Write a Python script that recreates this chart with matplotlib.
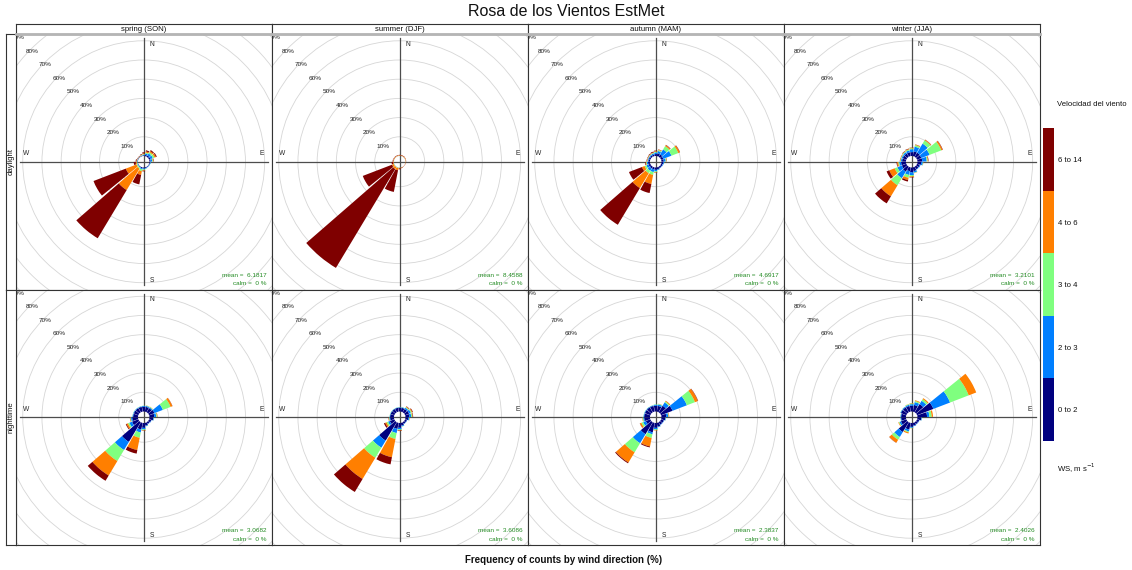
"""
windrose_panels.py
Wind roses per season (southern hemisphere) and day/night period,
stacked by wind speed class in 20-degree sectors.
"""

import numpy as np
import matplotlib
matplotlib.use("Agg")
import matplotlib.pyplot as plt
from matplotlib.patches import Wedge, Circle

plt.rcParams["font.family"] = ["Liberation Sans", "DejaVu Sans"]


DIRECTIONS = list(range(20, 361, 20))
SPEED_LABELS = ["0 to 2", "2 to 3", "3 to 4", "4 to 6", "6 to 14"]
SPEED_COLORS = ["#00007F", "#007FFF", "#7FFF7F", "#FF7F00", "#7F0000"]
SEASONS = ["spring (SON)", "summer (DJF)", "autumn (MAM)", "winter (JJA)"]
PERIODS = ["daylight", "nighttime"]
GRID_PCT = [10, 20, 30, 40, 50, 60, 70, 80, 90]

MEAN_DAY = [6.1817, 8.4588, 4.6917, 3.2101]
MEAN_NIGHT = [3.0682, 3.6086, 2.3837, 2.4026]
CALM_DAY = [0, 0, 0, 0]
CALM_NIGHT = [0, 0, 0, 0]

# frequency (%) by sector (rows: 20..360 deg), columns: speed classes
spring_day = [
    [0.6, 0.8, 0.5, 0.6, 0.6],
    [0.8, 1.2, 0.8, 0.7, 0.6],
    [0.8, 1.3, 0.9, 0.8, 0.5],
    [0.6, 0.8, 0.4, 0.3, 0.2],
    [0.4, 0.3, 0.1, 0.0, 0.0],
    [0.3, 0.2, 0.1, 0.0, 0.0],
    [0.3, 0.2, 0.0, 0.0, 0.0],
    [0.4, 0.3, 0.1, 0.0, 0.0],
    [0.5, 0.5, 0.4, 0.3, 0.3],
    [0.5, 0.5, 1.0, 2.0, 5.0],
    [0.3, 0.3, 0.6, 13.0, 29.3],
    [0.2, 0.3, 0.5, 6.0, 18.0],
    [0.2, 0.2, 0.3, 0.5, 1.0],
    [0.2, 0.2, 0.2, 0.2, 0.4],
    [0.2, 0.1, 0.1, 0.1, 0.2],
    [0.2, 0.1, 0.1, 0.1, 0.2],
    [0.2, 0.2, 0.2, 0.2, 0.3],
    [0.3, 0.3, 0.3, 0.4, 0.6],
]
summer_day = [
    [0.0, 0.05, 0.05, 0.3, 0.2],
    [0.0, 0.05, 0.05, 0.3, 0.2],
    [0.0, 0.05, 0.05, 0.3, 0.1],
    [0.0, 0.05, 0.05, 0.2, 0.1],
    [0.0, 0.0, 0.05, 0.15, 0.1],
    [0.0, 0.0, 0.0, 0.1, 0.1],
    [0.0, 0.0, 0.0, 0.1, 0.1],
    [0.0, 0.0, 0.05, 0.2, 0.2],
    [0.0, 0.05, 0.1, 0.3, 0.5],
    [0.0, 0.1, 0.2, 1.2, 11.5],
    [0.0, 0.1, 0.2, 1.2, 60.0],
    [0.0, 0.1, 0.2, 1.0, 16.3],
    [0.0, 0.05, 0.1, 0.3, 0.8],
    [0.0, 0.05, 0.05, 0.3, 0.3],
    [0.0, 0.05, 0.05, 0.3, 0.2],
    [0.0, 0.05, 0.05, 0.3, 0.2],
    [0.0, 0.05, 0.05, 0.3, 0.2],
    [0.0, 0.05, 0.05, 0.3, 0.2],
]
autumn_day = [
    [1.5, 1.2, 0.5, 0.3, 0.1],
    [1.5, 3.0, 2.0, 0.6, 0.2],
    [1.2, 4.6, 3.8, 0.8, 0.2],
    [1.2, 1.0, 0.4, 0.2, 0.1],
    [1.0, 0.4, 0.1, 0.0, 0.0],
    [0.8, 0.3, 0.0, 0.0, 0.0],
    [0.8, 0.2, 0.0, 0.0, 0.0],
    [1.0, 0.4, 0.1, 0.0, 0.0],
    [1.2, 0.8, 0.4, 0.2, 0.1],
    [1.0, 1.5, 1.5, 4.8, 4.8],
    [1.0, 1.5, 1.5, 9.0, 22.3],
    [1.0, 1.2, 1.0, 1.5, 7.2],
    [1.0, 0.6, 0.4, 0.3, 0.3],
    [0.8, 0.4, 0.2, 0.2, 0.2],
    [0.8, 0.4, 0.2, 0.2, 0.2],
    [0.8, 0.5, 0.3, 0.2, 0.3],
    [0.8, 0.6, 0.3, 0.3, 0.4],
    [1.0, 0.8, 0.4, 0.3, 0.3],
]
winter_day = [
    [2.5, 2.5, 0.8, 0.3, 0.1],
    [2.5, 5.5, 2.0, 0.4, 0.1],
    [2.4, 4.6, 6.5, 0.7, 0.2],
    [2.5, 2.3, 0.5, 0.3, 0.2],
    [2.0, 0.8, 0.2, 0.1, 0.0],
    [1.5, 0.4, 0.0, 0.0, 0.0],
    [1.5, 0.3, 0.0, 0.0, 0.0],
    [2.0, 0.8, 0.2, 0.1, 0.0],
    [2.5, 1.5, 0.6, 0.4, 0.2],
    [2.0, 2.0, 1.5, 1.2, 0.8],
    [3.0, 4.0, 4.3, 6.7, 4.3],
    [2.5, 2.5, 1.5, 3.0, 1.5],
    [2.5, 1.0, 0.5, 0.6, 0.3],
    [2.0, 0.6, 0.3, 0.2, 0.1],
    [2.0, 0.6, 0.3, 0.2, 0.1],
    [2.0, 0.8, 0.4, 0.2, 0.2],
    [2.0, 1.0, 0.5, 0.3, 0.2],
    [2.0, 1.5, 0.5, 0.3, 0.1],
]
spring_night = [
    [2.5, 0.5, 0.2, 0.1, 0.0],
    [2.5, 0.5, 0.3, 0.1, 0.0],
    [3.0, 4.7, 4.3, 1.0, 0.1],
    [2.5, 1.0, 0.4, 0.2, 0.1],
    [2.0, 0.3, 0.1, 0.0, 0.0],
    [1.2, 0.2, 0.0, 0.0, 0.0],
    [1.0, 0.2, 0.0, 0.0, 0.0],
    [1.5, 0.3, 0.1, 0.0, 0.0],
    [2.5, 0.8, 0.4, 0.2, 0.1],
    [3.5, 1.6, 2.8, 6.5, 1.9],
    [12.0, 4.9, 6.7, 8.8, 3.2],
    [3.5, 1.5, 0.8, 0.8, 0.4],
    [3.0, 0.6, 0.3, 0.2, 0.1],
    [2.5, 0.3, 0.1, 0.0, 0.0],
    [2.5, 0.3, 0.1, 0.0, 0.0],
    [2.5, 0.3, 0.1, 0.0, 0.0],
    [2.5, 0.3, 0.1, 0.0, 0.0],
    [2.5, 0.4, 0.1, 0.0, 0.0],
]
summer_night = [
    [2.0, 0.3, 0.1, 0.0, 0.0],
    [2.0, 0.8, 0.4, 0.3, 0.2],
    [2.2, 1.0, 0.5, 0.4, 0.3],
    [2.0, 1.0, 0.5, 0.3, 0.2],
    [1.5, 0.5, 0.2, 0.1, 0.0],
    [1.0, 0.2, 0.0, 0.0, 0.0],
    [1.0, 0.2, 0.0, 0.0, 0.0],
    [1.5, 0.4, 0.1, 0.0, 0.0],
    [2.5, 0.8, 0.4, 0.3, 0.2],
    [3.2, 2.2, 3.1, 9.7, 3.8],
    [11.2, 4.3, 6.1, 12.9, 7.9],
    [2.5, 1.0, 0.8, 0.8, 0.7],
    [2.0, 0.4, 0.2, 0.2, 0.1],
    [2.0, 0.2, 0.1, 0.0, 0.0],
    [2.0, 0.2, 0.1, 0.0, 0.0],
    [2.0, 0.2, 0.1, 0.0, 0.0],
    [2.0, 0.2, 0.1, 0.0, 0.0],
    [2.0, 0.2, 0.1, 0.0, 0.0],
]
autumn_night = [
    [3.0, 0.8, 0.3, 0.1, 0.0],
    [4.0, 2.0, 0.6, 0.4, 0.05],
    [6.4, 8.0, 4.5, 1.6, 0.2],
    [2.5, 1.0, 0.3, 0.2, 0.05],
    [2.0, 0.3, 0.1, 0.0, 0.0],
    [1.5, 0.2, 0.0, 0.0, 0.0],
    [1.5, 0.2, 0.0, 0.0, 0.0],
    [2.0, 0.3, 0.1, 0.0, 0.0],
    [2.5, 0.8, 0.4, 0.2, 0.0],
    [5.0, 1.0, 2.0, 4.5, 0.5],
    [7.3, 5.5, 5.5, 6.2, 0.5],
    [2.5, 1.5, 1.0, 0.8, 0.1],
    [3.0, 0.5, 0.3, 0.2, 0.0],
    [3.0, 0.3, 0.1, 0.0, 0.0],
    [3.0, 0.3, 0.1, 0.0, 0.0],
    [3.0, 0.3, 0.1, 0.0, 0.0],
    [3.0, 0.3, 0.1, 0.0, 0.0],
    [3.0, 0.5, 0.2, 0.0, 0.0],
]
winter_night = [
    [3.5, 1.5, 0.6, 0.4, 0.0],
    [5.0, 2.0, 1.0, 0.6, 0.0],
    [9.1, 9.3, 10.4, 4.2, 0.0],
    [5.0, 1.2, 1.2, 0.7, 0.0],
    [2.0, 0.3, 0.1, 0.0, 0.0],
    [1.2, 0.2, 0.0, 0.0, 0.0],
    [1.2, 0.2, 0.0, 0.0, 0.0],
    [1.5, 0.3, 0.0, 0.0, 0.0],
    [2.0, 0.5, 0.2, 0.1, 0.0],
    [3.5, 1.0, 0.5, 0.6, 0.0],
    [6.0, 3.0, 1.7, 1.8, 0.1],
    [3.0, 0.8, 0.4, 0.3, 0.0],
    [2.5, 0.3, 0.1, 0.0, 0.0],
    [2.5, 0.3, 0.1, 0.0, 0.0],
    [3.0, 0.3, 0.1, 0.0, 0.0],
    [3.0, 0.4, 0.1, 0.0, 0.0],
    [3.0, 0.6, 0.3, 0.1, 0.0],
    [3.0, 0.8, 0.4, 0.2, 0.0],
]

DAY_ROSES = [spring_day, summer_day, autumn_day, winter_day]
NIGHT_ROSES = [spring_night, summer_night, autumn_night, winter_night]

# layout in pixels
FIG_W, FIG_H = 1132, 570
PANEL_X0, PANEL_W, PANEL_H = 15.7, 256.0, 255.5
ROW_TOP = [34.0, 289.5]
STRIP_TOP = 24.3
PX_PER_PCT = 1.92      # radial scale
HOLE = 3.0             # empty centre, in % units
SECTOR_HALF = 9.0      # half width of a wedge, degrees
GRID_COLOR = "#d6d6d6"
AXIS_COLOR = "#4d4d4d"


def fig_rect(x, y, w, h):
    """Pixel box (top-left origin) -> figure fraction rect."""
    return [x / FIG_W, 1 - (y + h) / FIG_H, w / FIG_W, h / FIG_H]


def draw_rose(ax, freq, mean, calm):
    half_w = PANEL_W / 2 / PX_PER_PCT
    half_h = PANEL_H / 2 / PX_PER_PCT
    ax.set_xlim(-half_w, half_w)
    ax.set_ylim(-half_h, half_h)
    ax.set_xticks([])
    ax.set_yticks([])
    for sp in ax.spines.values():
        sp.set_linewidth(0.8)
        sp.set_color("#333333")

    for pct in GRID_PCT + [100]:
        ax.add_patch(Circle((0, 0), HOLE + pct, fill=False,
                            ec=GRID_COLOR, lw=0.6, zorder=1))
    ax.plot([-64.6, 64.6], [0, 0], color=AXIS_COLOR, lw=0.9, zorder=2)
    ax.plot([0, 0], [-64.3, 64.3], color=AXIS_COLOR, lw=0.9, zorder=2)

    for wd, row in zip(DIRECTIONS, np.asarray(freq, dtype=float)):
        theta = 90 - wd
        r = HOLE
        for val, col in zip(row, SPEED_COLORS):
            if val <= 0:
                continue
            ax.add_patch(Wedge((0, 0), r + val, theta - SECTOR_HALF,
                               theta + SECTOR_HALF, width=val,
                               fc=col, ec="none", lw=0, zorder=3))
            r += val

    # percentage labels along the NW diagonal, nudged just below the ring
    for pct in GRID_PCT:
        d = (HOLE + pct) * np.sqrt(0.5)
        ax.text(-d + 0.5, d - 1.1, f"{pct}%", fontsize=4.6, color="#222222",
                ha="center", va="center", clip_on=True, zorder=4)

    for lab, x, y in [("N", 4.4, 61.2), ("S", 4.4, -61.8),
                      ("W", -61.5, 4.2), ("E", 61.7, 4.2)]:
        ax.text(x, y, lab, fontsize=4.8, color="#222222",
                ha="center", va="center", zorder=4)

    ax.text(half_w - 2.6, -half_h + 7.5, f"mean =  {mean:.4f}",
            fontsize=4.6, color="forestgreen", ha="right", va="center")
    ax.text(half_w - 2.6, -half_h + 2.9, f"calm =  {calm} %",
            fontsize=4.6, color="forestgreen", ha="right", va="center")


def draw_strip(fig, rect, label, rotation=0, bottom_rule=False):
    ax = fig.add_axes(rect)
    ax.set_xticks([])
    ax.set_yticks([])
    ax.set_xlim(0, 1)
    ax.set_ylim(0, 1)
    for sp in ax.spines.values():
        sp.set_linewidth(0.8)
        sp.set_color("#333333")
    ax.text(0.5, 0.5, label, fontsize=5.6, color="#111111",
            ha="center", va="center", rotation=rotation)
    if bottom_rule:
        ax.axhline(0, color="#b5b5b5", lw=2.0, clip_on=False, zorder=5)
    return ax


def draw_key(fig):
    ax = fig.add_axes(fig_rect(1043.3, 128.3, 11.0, 312.7))
    n = len(SPEED_LABELS)
    ax.bar(np.zeros(n), np.ones(n), bottom=np.arange(n), width=1.0,
           color=SPEED_COLORS, edgecolor="none")
    ax.set_xlim(-0.5, 0.5)
    ax.set_ylim(0, n)
    ax.set_xticks([])
    ax.yaxis.tick_right()
    ax.set_yticks(np.arange(n) + 0.5)
    ax.set_yticklabels(SPEED_LABELS, fontsize=5.6, color="#111111")
    ax.tick_params(axis="y", length=0, pad=2.5)
    for sp in ax.spines.values():
        sp.set_visible(False)
    fig.text(1057 / FIG_W, 1 - 105 / FIG_H, "Velocidad del viento",
             fontsize=5.6, color="#111111", ha="left", va="center")
    fig.text(1057 / FIG_W, 1 - 468 / FIG_H, r"WS, m s$^{-1}$",
             fontsize=5.6, color="#111111", ha="left", va="center")


def plot_windroses(save_path="out.png"):
    fig = plt.figure(figsize=(FIG_W / 100, FIG_H / 100), dpi=100)

    rows = [(DAY_ROSES, MEAN_DAY, CALM_DAY), (NIGHT_ROSES, MEAN_NIGHT, CALM_NIGHT)]
    for r, (roses, means, calms) in enumerate(rows):
        for c in range(4):
            x = PANEL_X0 + c * PANEL_W
            ax = fig.add_axes(fig_rect(x, ROW_TOP[r], PANEL_W, PANEL_H))
            draw_rose(ax, roses[c], means[c], calms[c])
        draw_strip(fig, fig_rect(5.7, ROW_TOP[r], PANEL_X0 - 5.7, PANEL_H),
                   PERIODS[r], rotation=90)

    for c, season in enumerate(SEASONS):
        x = PANEL_X0 + c * PANEL_W
        draw_strip(fig, fig_rect(x, STRIP_TOP, PANEL_W, ROW_TOP[0] - STRIP_TOP),
                   season, bottom_rule=True)

    draw_key(fig)

    fig.text(566 / FIG_W, 1 - 11 / FIG_H, "Rosa de los Vientos EstMet",
             fontsize=11.5, color="#111111", ha="center", va="center")
    fig.text(564 / FIG_W, 1 - 560 / FIG_H,
             "Frequency of counts by wind direction (%)",
             fontsize=7, fontweight="bold", color="#111111",
             ha="center", va="center")

    fig.savefig(save_path, dpi=100)
    print(f"Saved -> {save_path}")


if __name__ == "__main__":
    plot_windroses()
